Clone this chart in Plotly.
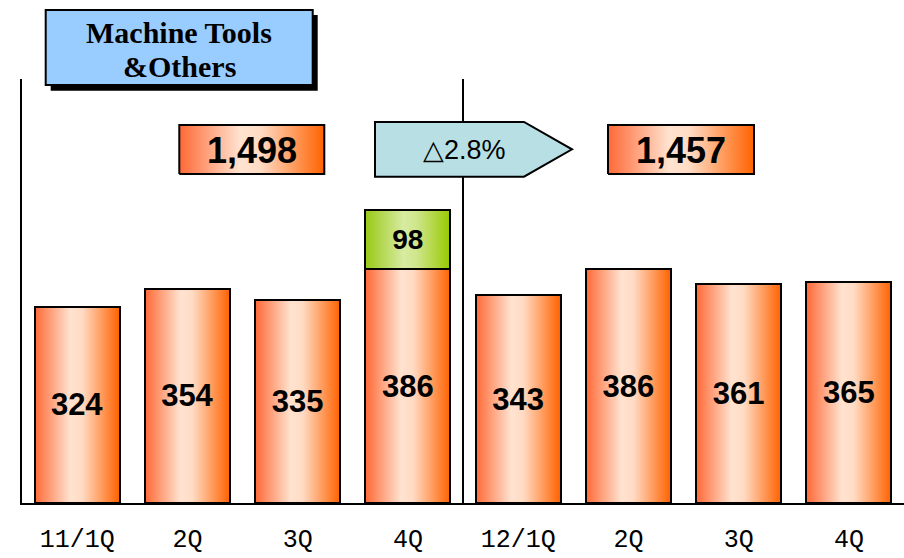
import plotly.graph_objects as go

# ---------------- data ----------------
categories = ["11/1Q", "2Q", "3Q", "4Q", "12/1Q", "2Q", "3Q", "4Q"]
machine_tools = [324, 354, 335, 386, 343, 386, 361, 365]
extra_category = [3]          # index of the quarter with the extra (green) part
extra_values = [98]
fy_totals = ["1,498", "1,457"]
change_label = "△2.8%"
title_lines = ["Machine Tools", "&Others"]

# ---------------- layout helpers ----------------
W, H = 904, 558
PL, PR, PT, PB = 22, 904, 79, 503      # plot area in pixels
YMAX = 700
BAR_W = 0.77
N = len(categories)


def dx(px):
    return (px - PL) / (PR - PL) * N - 0.5


def dy(py):
    return (PB - py) / (PB - PT) * YMAX


def fx(px):
    return px / W


def fy(py):
    return 1 - py / H


ORANGE = [[0, "#ff6936"], [0.42, "#ffe3d0"], [0.56, "#ffdbc4"], [1, "#ff6200"]]
GREEN = [[0, "#98c916"], [0.45, "#d8eba2"], [0.6, "#cfe68c"], [1, "#97c900"]]

fig = go.Figure()


def grad_rect(x0, x1, y0, y1, scale, line_w=0):
    fig.add_trace(go.Scatter(
        x=[x0, x1, x1, x0, x0], y=[y0, y0, y1, y1, y0],
        mode="lines", fill="toself",
        fillgradient=dict(type="horizontal", colorscale=scale),
        line=dict(color="black", width=line_w),
        hoverinfo="skip", showlegend=False, xaxis="x", yaxis="y"))


# gradient fills of the bars (below), computed from the data
for i, v in enumerate(machine_tools):
    grad_rect(i - BAR_W / 2, i + BAR_W / 2, 0, v, ORANGE)
for i, v in zip(extra_category, extra_values):
    base = machine_tools[i]
    grad_rect(i - BAR_W / 2, i + BAR_W / 2, base, base + v, GREEN)

# total boxes (gradient)
grad_rect(dx(179.3), dx(324.3), dy(174), dy(125), ORANGE, 2)
grad_rect(dx(608), dx(754), dy(174), dy(125), ORANGE, 2)

# bars with outlines and labels on an overlaid axis pair
fig.add_trace(go.Bar(
    x=list(range(N)), y=machine_tools, width=BAR_W,
    marker=dict(color="rgba(0,0,0,0)", line=dict(color="black", width=2)),
    text=[str(v) for v in machine_tools], textposition="inside",
    insidetextanchor="middle",
    textfont=dict(family="Liberation Sans, Arial, sans-serif", size=31,
                  color="black", weight="bold"),
    showlegend=False, xaxis="x2", yaxis="y2"))
fig.add_trace(go.Bar(
    x=extra_category, y=extra_values, width=BAR_W,
    marker=dict(color="rgba(0,0,0,0)", line=dict(color="black", width=2)),
    text=[str(v) for v in extra_values], textposition="inside",
    insidetextanchor="middle",
    textfont=dict(family="Liberation Sans, Arial, sans-serif", size=28,
                  color="black", weight="bold"),
    showlegend=False, xaxis="x2", yaxis="y2"))

dom_x = [PL / W, 1]
dom_y = [1 - PB / H, 1 - PT / H]

fig.update_layout(
    width=W, height=H, autosize=False,
    margin=dict(l=0, r=0, t=0, b=0, autoexpand=False),
    paper_bgcolor="white", plot_bgcolor="white",
    barmode="stack",
    xaxis=dict(domain=dom_x, range=[-0.5, N - 0.5], tickmode="array",
               tickvals=list(range(N)), ticktext=categories,
               showline=True, linecolor="black", linewidth=2,
               showgrid=False, zeroline=False, ticks="", automargin=False,
               ticklabelstandoff=12,
               tickfont=dict(family="Liberation Mono, DejaVu Sans Mono, monospace",
                             size=25, color="black")),
    yaxis=dict(domain=dom_y, range=[0, YMAX], showline=True, linecolor="black",
               linewidth=2, showgrid=False, zeroline=False, automargin=False,
               showticklabels=False, ticks=""),
    xaxis2=dict(overlaying="x", matches="x", visible=False, anchor="y2",
                automargin=False),
    yaxis2=dict(overlaying="y", matches="y", visible=False, anchor="x2",
                automargin=False),
)

shapes = []
# divider between fiscal years
shapes.append(dict(type="line", xref="x", yref="y domain", x0=3.5, x1=3.5,
                   y0=0, y1=1, line=dict(color="black", width=2)))
# change arrow
pts = [(375, 122), (524, 122), (572, 149.3), (524, 176.7), (375, 176.7)]
path = "M " + " L ".join(f"{fx(a):.5f},{fy(b):.5f}" for a, b in pts) + " Z"
shapes.append(dict(type="path", xref="paper", yref="paper", path=path,
                   fillcolor="#b8e0e4", line=dict(color="black", width=2)))
# title box with shadow
shapes.append(dict(type="rect", xref="paper", yref="paper",
                   x0=fx(50.7), x1=fx(317.7), y0=fy(15), y1=fy(90.7),
                   fillcolor="black", line=dict(width=0)))
shapes.append(dict(type="rect", xref="paper", yref="paper",
                   x0=fx(45.7), x1=fx(312.7), y0=fy(10), y1=fy(85),
                   fillcolor="#99ccff", line=dict(color="black", width=2)))
fig.update_layout(shapes=shapes)

ann = []
for txt, py in zip(title_lines, [33, 67]):
    ann.append(dict(text=f"<b>{txt}</b>", xref="paper", yref="paper",
                    x=fx(179.2), y=fy(py), xanchor="center", yanchor="middle",
                    showarrow=False,
                    font=dict(family="Liberation Serif, Times New Roman, serif",
                              size=30, color="black")))
for txt, px in zip(fy_totals, [251.8, 681]):
    ann.append(dict(text=f"<b>{txt}</b>", xref="paper", yref="paper",
                    x=fx(px), y=fy(150), xanchor="center", yanchor="middle",
                    showarrow=False,
                    font=dict(family="Liberation Sans, Arial, sans-serif",
                              size=36, color="black")))
ann.append(dict(text=change_label, xref="paper", yref="paper",
                x=fx(464.7), y=fy(149.5), xanchor="center", yanchor="middle",
                showarrow=False,
                font=dict(family="Liberation Sans, Arial, sans-serif",
                          size=27, color="black")))
fig.update_layout(annotations=ann)

fig.write_html("out.html",
               config={"responsive": False, "displayModeBar": False},
               post_script="document.body.style.margin='0';"
                           "document.body.style.overflow='hidden';")
